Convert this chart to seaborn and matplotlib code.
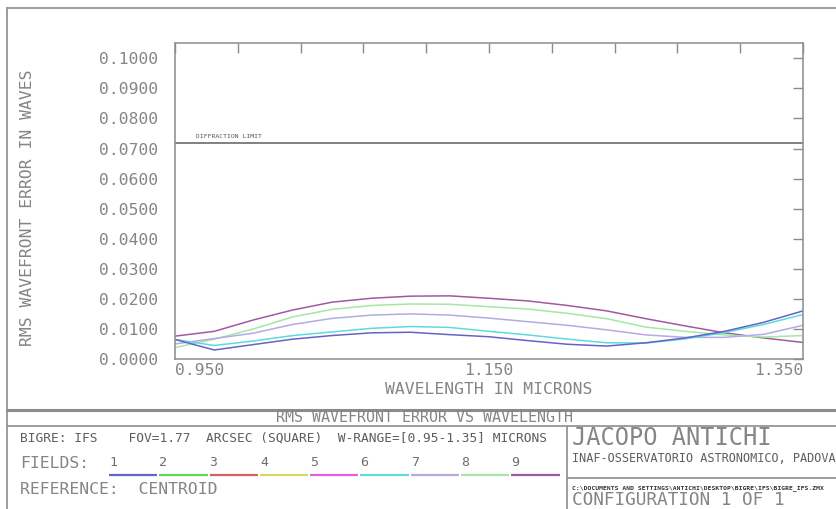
import numpy as np
import pandas as pd
import matplotlib
matplotlib.use("Agg")
import matplotlib.pyplot as plt
import seaborn as sns

# ---------------- data ----------------
wavelength = [0.95, 0.975, 1.0, 1.025, 1.05, 1.075, 1.1, 1.125, 1.15,
              1.175, 1.2, 1.225, 1.25, 1.275, 1.3, 1.325, 1.35]
field1 = [0.0065, 0.0030, 0.0048, 0.0066, 0.0078, 0.0087, 0.0089, 0.0081, 0.0074,
          0.0061, 0.0049, 0.0043, 0.0054, 0.0070, 0.0092, 0.0122, 0.0160]
field6 = [0.0065, 0.0045, 0.0060, 0.0078, 0.0090, 0.0102, 0.0108, 0.0105, 0.0092,
          0.0080, 0.0066, 0.0054, 0.0053, 0.0067, 0.0088, 0.0115, 0.0148]
field7 = [0.0050, 0.0068, 0.0086, 0.0115, 0.0135, 0.0146, 0.0150, 0.0146, 0.0136,
          0.0124, 0.0112, 0.0097, 0.0080, 0.0072, 0.0072, 0.0082, 0.0112]
field8 = [0.0038, 0.0066, 0.0100, 0.0140, 0.0165, 0.0178, 0.0183, 0.0182, 0.0174,
          0.0166, 0.0152, 0.0134, 0.0106, 0.0092, 0.0080, 0.0073, 0.0078]
field9 = [0.0076, 0.0092, 0.0130, 0.0163, 0.0189, 0.0202, 0.0209, 0.0210, 0.0202,
          0.0193, 0.0178, 0.0160, 0.0134, 0.0110, 0.0087, 0.0070, 0.0055]

field_names = ["1", "2", "3", "4", "5", "6", "7", "8", "9"]
field_colors = ["#6464c8", "#5ed65e", "#d66060", "#d6d660", "#e060e0",
                "#5cdcdc", "#b4aae6", "#a6e6a6", "#a05aa0"]
diffraction_limit = 0.0720

ytick_values = [0.0, 0.01, 0.02, 0.03, 0.04, 0.05, 0.06, 0.07, 0.08, 0.09, 0.10]
xtick_values = [0.95, 0.99, 1.03, 1.07, 1.11, 1.15, 1.19, 1.23, 1.27, 1.31, 1.35]
xtick_labels = ["0.950", "", "", "", "", "1.150", "", "", "", "", "1.350"]

# ---------------- style ----------------
sns.set_style("white")
plt.rcParams['font.family'] = ['DejaVu Sans Mono', 'DejaVu Sans']
TXT = "#858585"
LINE = "#8c8c8c"
FS = 11.8

W, H = 837, 509
fig = plt.figure(figsize=(W / 100, H / 100), dpi=100)
fig.patch.set_facecolor("white")

def fx(px):
    return px / W

def fy(py):
    return 1 - py / H

# overlay for frame / boxes, in pixel coordinates
ov = fig.add_axes([0, 0, 1, 1], zorder=0)
ov.set_xlim(0, W)
ov.set_ylim(H, 0)
ov.axis("off")

ax = fig.add_axes([fx(175), fy(359), (803 - 175) / W, (359 - 43) / H], zorder=1)
ax.set_facecolor("white")

series = {"1": field1, "6": field6, "7": field7, "8": field8, "9": field9}
rows = []
for name, vals in series.items():
    for w, v in zip(wavelength, vals):
        rows.append({"wavelength": w, "rms": v, "field": name})
df = pd.DataFrame(rows)
palette = {n: c for n, c in zip(field_names, field_colors)}
draw_order = ["9", "8", "7", "6", "1"]
sns.lineplot(data=df, x="wavelength", y="rms", hue="field", hue_order=draw_order,
             palette=palette, ax=ax, legend=False, linewidth=1.1,
             estimator=None, sort=False)

ax.axhline(diffraction_limit, color="#777777", lw=1.3)
ax.text(0.9634, diffraction_limit + 0.0012, "DIFFRACTION LIMIT", fontsize=4.6,
        color="#555555", ha="left", va="bottom")

ax.set_xlim(0.95, 1.35)
ax.set_ylim(0.0, 0.1051)
ax.set_yticks(ytick_values)
ax.set_yticklabels([f"{v:.4f}" for v in ytick_values])
ax.set_xticks(xtick_values)
ax.set_xticklabels(xtick_labels)
ax.tick_params(axis="both", direction="in", length=7, width=1, color=LINE,
               labelcolor=TXT, labelsize=FS, top=True, right=True)
ax.tick_params(axis="y", pad=12)
ax.tick_params(axis="x", pad=3)
lbls = ax.get_xticklabels()
lbls[0].set_ha("left")
lbls[-1].set_ha("right")
for s in ax.spines.values():
    s.set_color(LINE)
    s.set_linewidth(1.1)

ax.set_xlabel("WAVELENGTH IN MICRONS", fontsize=FS, color=TXT)
ax.set_ylabel("RMS WAVEFRONT ERROR IN WAVES", fontsize=FS, color=TXT)
ax.xaxis.set_label_coords((489 - 175) / 628, (359 - 389) / 316)
ax.yaxis.set_label_coords((27 - 175) / 628, (359 - 208) / 316)
ax.xaxis.label.set_va("center")
ax.yaxis.label.set_va("center")

# ---------------- frame and title block ----------------
kw = dict(color=LINE, lw=1.2, clip_on=False, solid_capstyle="butt")
ov.plot([7.5, 7.5], [7, H + 2], **kw)
ov.plot([7, W + 2], [7.5, 7.5], **kw)
ov.plot([7, W + 2], [409.5, 409.5], color=LINE, lw=2.2, clip_on=False)
ov.plot([7, W + 2], [426, 426], **kw)
ov.plot([567, 567], [426, H + 2], **kw)
ov.plot([567, W + 2], [477.5, 477.5], **kw)

ov.text(425, 418, "RMS WAVEFRONT ERROR VS WAVELENGTH", fontsize=10.8, color=TXT,
        ha="center", va="center")
ov.text(20, 438, "BIGRE: IFS    FOV=1.77  ARCSEC (SQUARE)  W-RANGE=[0.95-1.35] MICRONS",
        fontsize=9.3, color="#5e5e5e", ha="left", va="center")
ov.text(20, 463, "FIELDS:", fontsize=FS, color=TXT, ha="left", va="center")
seg_x0, seg_w = 108.0, 50.3
for i, (name, col) in enumerate(zip(field_names, field_colors)):
    x0 = seg_x0 + i * seg_w
    ov.text(x0 + 1, 463, name, fontsize=9.5, color="#6e6e6e", ha="left", va="center")
    ov.plot([x0 + 1, x0 + seg_w - 1], [474.7, 474.7], color=col, lw=1.6,
            solid_capstyle="butt")
ov.text(20, 489, "REFERENCE:  CENTROID", fontsize=FS, color=TXT, ha="left", va="center")

ov.text(572, 438, "JACOPO ANTICHI", fontsize=17, color=TXT, ha="left", va="center")
ov.text(572, 458, "INAF-OSSERVATORIO ASTRONOMICO, PADOVA", fontsize=8.6,
        color="#5e5e5e", ha="left", va="center")
ov.text(572, 488.5, "C:\\DOCUMENTS AND SETTINGS\\ANTICHI\\DESKTOP\\BIGRE\\IFS\\BIGRE_IFS.ZMX",
        fontsize=4.6, color="#333333", ha="left", va="center", fontweight="bold")
ov.text(572, 500, "CONFIGURATION 1 OF 1", fontsize=12.8, color=TXT,
        ha="left", va="center")

fig.savefig("out.png", dpi=100, facecolor="white")
